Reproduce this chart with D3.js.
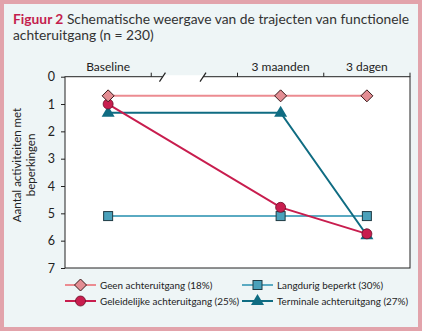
<!DOCTYPE html>
<html><head><meta charset="utf-8">
<script src="https://cdn.jsdelivr.net/npm/d3@7"></script>
<style>
html,body{margin:0;padding:0;background:#fff;}
svg{display:block;font-family:Lato,"Open Sans",sans-serif;}
</style></head>
<body><svg id="c" width="422" height="331"></svg>
<script>
// ---- data ----
const categories = ["Baseline", "break", "3 maanden", "3 dagen"];
const timepoints = ["Baseline", "3 maanden", "3 dagen"];
const yTicks = [0, 1, 2, 3, 4, 5, 6, 7];
const seriesNames = ["Geen achteruitgang (18%)", "Langdurig beperkt (30%)", "Geleidelijke achteruitgang (25%)", "Terminale achteruitgang (27%)"];
const geen = [0.7, 0.7, 0.7];
const langdurig = [5.1, 5.1, 5.1];
const geleidelijk = [1.0, 4.78, 5.75];
const terminaal = [1.32, 1.32, 5.8];

const series = [
  {name: seriesNames[1], values: langdurig, line: "#5aaac2", fill: "#4aa1bb", shape: "square"},
  {name: seriesNames[3], values: terminaal, line: "#0f6c82", fill: "#0f6c82", shape: "triangle"},
  {name: seriesNames[2], values: geleidelijk, line: "#c81d4e", fill: "#c81d4e", shape: "circle"},
  {name: seriesNames[0], values: geen, line: "#ec8b91", fill: "#e38d93", shape: "diamond"}
];
const legendOrder = [3, 0, 2, 1];

const svg = d3.select("#c");
// card
svg.append("rect").attr("x", 2).attr("y", 2).attr("width", 418).attr("height", 327)
  .attr("fill", "#eef5f6").attr("stroke", "#e2a3ab").attr("stroke-width", 4);

// title
const title = svg.append("text").attr("x", 13).attr("y", 24).attr("font-size", 13.8).attr("fill", "#333");
title.append("tspan").attr("fill", "#c41e4e").attr("font-weight", "bold").text("Figuur 2");
title.append("tspan").text(" Schematische weergave van de trajecten van functionele");
svg.append("text").attr("x", 13).attr("y", 40).attr("font-size", 13.8).attr("fill", "#333").text("achteruitgang (n = 230)");

const L = 65, R = 410, T = 76.7, B = 268;
const x = d3.scaleBand().domain(categories).range([L, R]).padding(0);
const y = d3.scaleLinear().domain([0, 7]).range([T, B]);
const cx = d => x(d) + x.bandwidth() / 2;

svg.append("rect").attr("x", L).attr("y", T).attr("width", R - L).attr("height", B - T)
  .attr("fill", "#fff").attr("stroke", "#222").attr("stroke-width", 1);

// top axis
const topG = svg.append("g").attr("transform", `translate(0,${T})`);
const tickXs = categories.map(c => x(c) + x.bandwidth());
topG.selectAll("line.tk").data(tickXs).join("line").attr("class", "tk")
  .attr("x1", d => d).attr("x2", d => d).attr("y1", 0).attr("y2", -4).attr("stroke", "#222");
topG.selectAll("text").data(timepoints).join("text")
  .attr("x", d => cx(d)).attr("y", -6).attr("text-anchor", "middle").attr("font-size", 12).attr("fill", "#222").text(d => d);
// break
const bx = x("break"), bw = x.bandwidth();
const s1 = bx + bw * 0.13, s2 = bx + bw * 0.6;
topG.append("line").attr("x1", s1).attr("x2", s2).attr("y1", 0).attr("y2", 0).attr("stroke", "#fff").attr("stroke-width", 3);
[s1, s2].forEach(s => topG.append("line").attr("x1", s - 3).attr("x2", s + 3).attr("y1", 5).attr("y2", -4).attr("stroke", "#222").attr("stroke-width", 1.2));

// y axis
const yAxis = d3.axisLeft(y).tickValues(yTicks).tickSize(4).tickPadding(6).tickFormat(d3.format("d"));
const yg = svg.append("g").attr("transform", `translate(${L},0)`).call(yAxis);
yg.select(".domain").remove();
yg.selectAll("text").attr("font-size", 12.5).attr("fill", "#222").attr("font-family", "Lato, sans-serif");
yg.selectAll("line").attr("stroke", "#222");

// y title
const yt = svg.append("text").attr("transform", "translate(21,165) rotate(-90)").attr("text-anchor", "middle").attr("font-size", 11.5).attr("fill", "#222");
yt.append("tspan").attr("x", 0).attr("dy", 0).text("Aantal activiteiten met");
yt.append("tspan").attr("x", 0).attr("dy", 14).text("beperkingen");

function marker(g, shape, fill, px, py) {
  if (shape === "diamond") g.append("path").attr("d", `M${px},${py-6}L${px+6},${py}L${px},${py+6}L${px-6},${py}Z`).attr("fill", fill).attr("stroke", "#3a1a1a").attr("stroke-width", 1);
  else if (shape === "square") g.append("rect").attr("x", px-4.5).attr("y", py-4.5).attr("width", 9).attr("height", 9).attr("fill", fill).attr("stroke", "#1f3b44").attr("stroke-width", 1);
  else if (shape === "circle") g.append("circle").attr("cx", px).attr("cy", py).attr("r", 5).attr("fill", fill).attr("stroke", "#6a0f28").attr("stroke-width", 0.8);
  else if (shape === "triangle") g.append("path").attr("d", `M${px},${py-7}L${px+6.5},${py+4}L${px-6.5},${py+4}Z`).attr("fill", fill);
}

const line = d3.line().x((d, i) => cx(timepoints[i])).y(d => y(d));
series.forEach(s => {
  const g = svg.append("g");
  g.append("path").attr("d", line(s.values)).attr("fill", "none").attr("stroke", s.line).attr("stroke-width", 2);
});
series.forEach(s => {
  const g = svg.append("g");
  s.values.forEach((v, i) => marker(g, s.shape, s.fill, cx(timepoints[i]), y(v)));
});

// legend
const legPos = [[65, 285], [242, 285], [65, 301], [242, 301]];
legendOrder.forEach((si, k) => {
  const s = series[si];
  const [lx, ly] = legPos[k];
  const g = svg.append("g");
  g.append("line").attr("x1", lx).attr("x2", lx + 31).attr("y1", ly).attr("y2", ly).attr("stroke", s.line).attr("stroke-width", 2);
  marker(g, s.shape, s.fill, lx + 15.5, ly);
  g.append("text").attr("x", lx + 35).attr("y", ly + 3.5).attr("font-size", 9.9).attr("fill", "#222").text(s.name);
});
</script></body></html>
